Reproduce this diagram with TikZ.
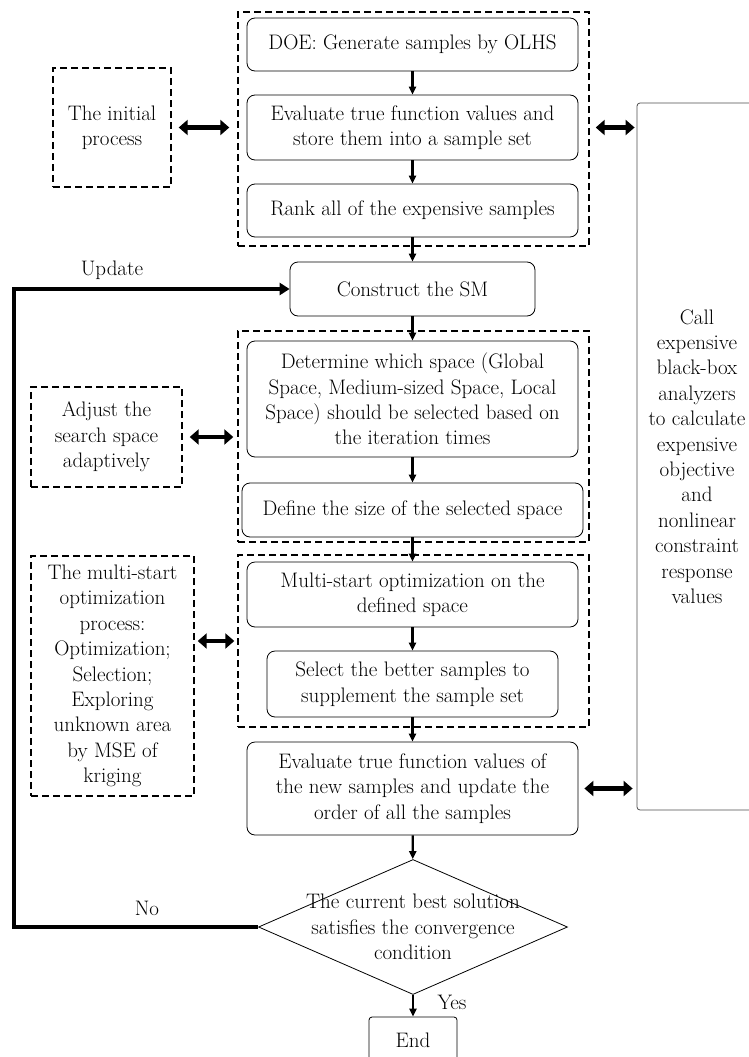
\documentclass[tikz,border=0pt]{standalone}
\usepackage{tikz}
\usetikzlibrary{arrows.meta,shapes.geometric}

\begin{document}
\begin{tikzpicture}[x=1pt,y=-1pt,>={Triangle[length=8pt,width=7pt]},font=\fontsize{21}{25.4}\selectfont]
	\tikzstyle{process}=[rectangle, rounded corners=8pt, draw, line width=0.8pt, align=center, inner sep=0pt]
	\tikzstyle{group}=[rectangle, draw, line width=1.4pt, dash pattern=on 7pt off 4pt, inner sep=0pt, align=center]
	\tikzstyle{decision}=[diamond, draw, line width=0.8pt, inner sep=0pt, minimum width=309pt, minimum height=135pt]
	\tikzstyle{link}=[->, line width=2.2pt]
	\tikzstyle{fat link}=[{Triangle[length=9pt,width=15pt]}-{Triangle[length=9pt,width=15pt]}, line width=4.5pt]
	\tikzstyle{loop link}=[-{Triangle[length=10pt,width=12pt]}, line width=3.5pt]

	\clip (0,0) rectangle (749,1057);

	% initial stage
	\node [group, minimum width=351pt, minimum height=234pt] (grp1) at (413.5,129) {};
	\node [process, minimum width=331pt, minimum height=53pt] (doe) at (412.5,44.5) {DOE: Generate samples by OLHS};
	\node [process, minimum width=331pt, minimum height=65pt] (eval) at (412.5,127.5) {Evaluate true function values and\\store them into a sample set};
	\node [process, minimum width=331pt, minimum height=53pt] (rank) at (412.5,210.5) {Rank all of the expensive samples};
	\node [group, minimum width=118pt, minimum height=119pt] (init) at (112,127.5) {The initial\\process};

	\node [process, minimum width=245pt, minimum height=54pt] (sm) at (412.5,289) {Construct the SM};

	% adaptive space
	\node [group, minimum width=351pt, minimum height=211pt] (grp2) at (413.5,436.5) {};
	\node [process, minimum width=331pt, minimum height=116pt] (det) at (412.5,399) {Determine which space (Global\\Space, Medium-sized Space, Local\\Space) should be selected based on\\the iteration times};
	\node [process, minimum width=341pt, minimum height=54pt] (def) at (412.5,510) {Define the size of the selected space};
	\node [group, minimum width=151pt, minimum height=100pt] (adj) at (106.5,437) {Adjust the\\search space\\adaptively};

	% multi-start
	\node [group, minimum width=351pt, minimum height=172pt] (grp3) at (413.5,641) {};
	\node [process, minimum width=331pt, minimum height=65pt] (ms) at (412.5,594.5) {Multi-start optimization on the\\defined space};
	\node [process, minimum width=291pt, minimum height=66pt] (sel) at (412.5,684) {Select the better samples to\\supplement the sample set};
	\node [group, minimum width=163pt, minimum height=240pt] (msn) at (112.5,676) {The multi-start\\optimization\\process:\\Optimization;\\Selection;\\Exploring\\unknown area\\by MSE of\\kriging};

	\node [process, minimum width=331pt, minimum height=93pt] (eval2) at (412.5,788.5) {Evaluate true function values of\\the new samples and update the\\order of all the samples};
	\node [decision, label={[align=center]center:The current best solution\\satisfies the convergence\\condition}] (dec) at (413,927) {};
	\node [process, rounded corners=3pt, minimum width=88pt, minimum height=46pt] (theend) at (413,1040) {End};

	\node [rectangle, rounded corners=3pt, draw=black!70, line width=0.8pt, align=center, minimum width=120pt, minimum height=707pt] (call) at (697,456.5) {Call\\expensive\\black-box\\analyzers\\to calculate\\expensive\\objective\\and\\nonlinear\\constraint\\response\\values};

	% main flow
	\draw [link] (doe) -- (eval);
	\draw [link] (eval) -- (rank);
	\draw [link] (rank) -- (sm);
	\draw [link] (sm) -- (det);
	\draw [link] (det) -- (def);
	\draw [link] (def) -- (ms);
	\draw [link] (ms) -- (sel);
	\draw [link] (sel) -- (eval2);
	\draw [link] (eval2) -- (dec);
	\draw [link] (dec) -- (theend);

	% exchanges
	\draw [fat link, shorten <=7pt, shorten >=8pt] (init.east) -- (init.east -| grp1.west);
	\draw [fat link, shorten <=6pt, shorten >=2pt] (grp1.east |- eval.east) -- (call.west |- eval.east);
	\draw [fat link, shorten <=7pt, shorten >=4pt] (adj.east) -- (adj.east -| grp2.west);
	\draw [fat link, shorten <=3pt, shorten >=3pt] (msn.east |- grp3.west) -- (grp3.west);
	\draw [fat link, shorten <=6pt, shorten >=4pt] (eval2.east) -- (eval2.east -| call.west);

	% back loop
	\coordinate (back) at (14,289);
	\draw [loop link] (dec.west) -| (back) -- (sm.west);
	\node (upd) at (112,270) {Update};
	\node (no) at (147,908) {No};
	\node (yes) at (452,1002) {Yes};
\end{tikzpicture}
\end{document}
